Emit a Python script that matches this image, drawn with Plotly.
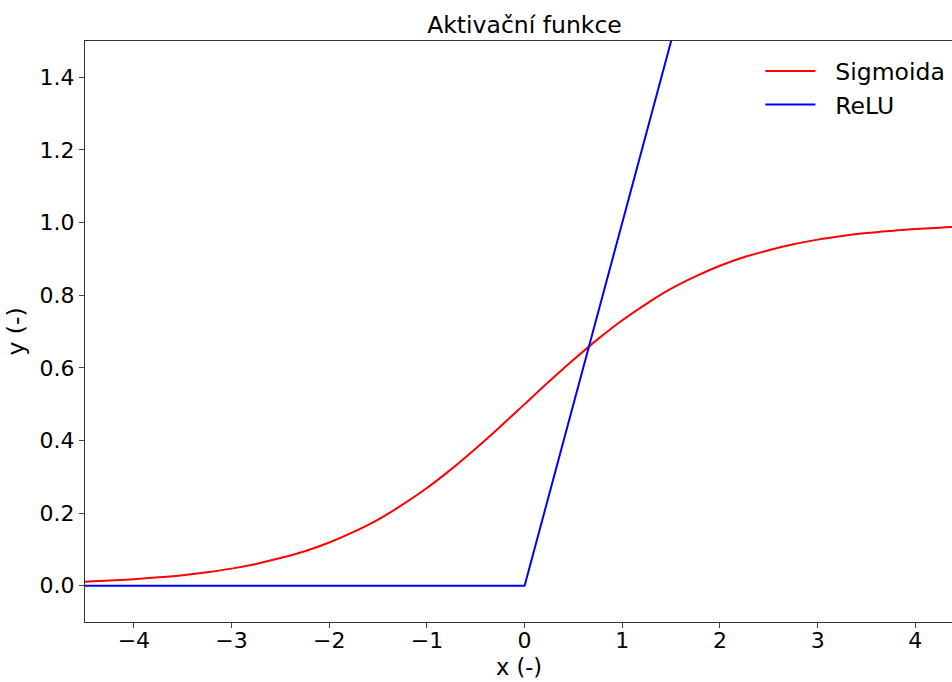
import plotly.graph_objects as go

# Sigmoid curve
sig_x = [-4.5, -4.25, -4.0, -3.75, -3.5, -3.25, -3.0, -2.75, -2.5, -2.25, -2.0, -1.75,
         -1.5, -1.25, -1.0, -0.75, -0.5, -0.25, 0.0, 0.25, 0.5, 0.75, 1.0, 1.25,
         1.5, 1.75, 2.0, 2.25, 2.5, 2.75, 3.0, 3.25, 3.5, 3.75, 4.0, 4.25, 4.5]
sig_y = [0.011, 0.014, 0.018, 0.023, 0.029, 0.037, 0.047, 0.060, 0.076, 0.095, 0.119, 0.148,
         0.182, 0.223, 0.269, 0.321, 0.378, 0.438, 0.500, 0.562, 0.622, 0.679, 0.731, 0.777,
         0.818, 0.852, 0.881, 0.905, 0.924, 0.940, 0.953, 0.963, 0.971, 0.977, 0.982, 0.986, 0.989]

# ReLU curve
relu_x = [-4.5, 0.0, 4.5]
relu_y = [0.0, 0.0, 4.5]

series_names = ["Sigmoida", "ReLU"]

x_ticks = [-4, -3, -2, -1, 0, 1, 2, 3, 4]
x_tick_labels = ["\u22124", "\u22123", "\u22122", "\u22121", "0", "1", "2", "3", "4"]
y_ticks = [0.0, 0.2, 0.4, 0.6, 0.8, 1.0, 1.2, 1.4]
y_tick_labels = ["0.0", "0.2", "0.4", "0.6", "0.8", "1.0", "1.2", "1.4"]

FONT = "DejaVu Sans"
PAD = "\u00a0\u00a0"

fig = go.Figure()
fig.add_trace(go.Scatter(x=sig_x, y=sig_y, mode="lines", name=PAD + series_names[0],
                         line=dict(color="#ff0000", width=2, shape="spline")))
fig.add_trace(go.Scatter(x=relu_x, y=relu_y, mode="lines", name=PAD + series_names[1],
                         line=dict(color="#0000ff", width=2)))

axis_common = dict(showgrid=False, zeroline=False, showline=True, linecolor="#333333",
                   linewidth=1, ticks="outside", ticklen=5, tickcolor="#444444",
                   tickwidth=1, tickfont=dict(family=FONT, size=22, color="black"))

fig.update_layout(
    width=952, height=682,
    margin=dict(l=85, r=0, t=41, b=60, autoexpand=False),
    paper_bgcolor="white", plot_bgcolor="white",
    font=dict(family=FONT, color="black"),
    title=dict(text="Aktivační funkce", x=524.5 / 952, xanchor="center", xref="container",
               y=1 - 25 / 682, yanchor="middle", yref="container",
               font=dict(family=FONT, size=23.5, color="black")),
    xaxis=dict(range=[-4.5, 4.375], tickvals=x_ticks, ticktext=x_tick_labels,
               mirror=True, ticklabelstandoff=-6,
               **axis_common),
    yaxis=dict(range=[-0.1, 1.5], tickvals=y_ticks, ticktext=y_tick_labels,
               title=dict(text="y (-)", font=dict(family=FONT, size=23.5), standoff=8),
               **axis_common),
    legend=dict(x=0.779, y=0.986, xanchor="left", yanchor="top", bgcolor="rgba(0,0,0,0)",
                font=dict(family=FONT, size=23.5, color="black"), tracegroupgap=0,
                itemwidth=50),
    annotations=[dict(text="x (-)", xref="paper", yref="paper", x=0.5, y=-59.5 / 581.6,
                      xanchor="center", yanchor="bottom", showarrow=False, borderpad=0,
                      font=dict(family=FONT, size=22.5, color="black"))],
    showlegend=True,
)

fig.write_html("out.html")
